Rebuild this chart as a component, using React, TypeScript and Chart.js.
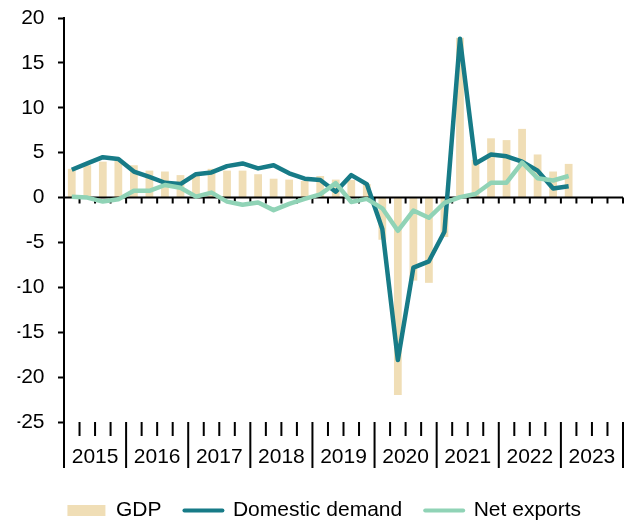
import React, { useEffect, useRef } from "react";
import { Chart, registerables } from "chart.js";

Chart.register(...registerables);

const years = ["2015", "2016", "2017", "2018", "2019", "2020", "2021", "2022", "2023"];
const quarters = ["Q1", "Q2", "Q3", "Q4"];
const categories = years.flatMap((y) => quarters.map((q) => `${y} ${q}`));

const gdp = [3.2, 3.6, 4.0, 4.1, 3.6, 3.0, 2.9, 2.5, 2.4, 3.2, 3.0, 3.0, 2.6, 2.1, 2.0, 1.85, 2.4, 2.0, 1.95, 1.5, -4.7, -22.0, -9.25, -9.5, -4.4, 17.8, 4.2, 6.6, 6.4, 7.65, 4.8, 2.9, 3.75];
const domesticDemand = [3.1, 3.8, 4.5, 4.3, 2.9, 2.3, 1.65, 1.5, 2.6, 2.8, 3.5, 3.8, 3.25, 3.6, 2.7, 2.1, 1.95, 0.65, 2.5, 1.5, -3.5, -18.1, -7.8, -7.1, -3.8, 17.7, 3.8, 4.8, 4.6, 4.0, 3.0, 1.0, 1.25];
const netExports = [0.1, 0.0, -0.45, -0.2, 0.75, 0.75, 1.4, 1.1, 0.1, 0.55, -0.45, -0.8, -0.55, -1.4, -0.7, -0.15, 0.35, 1.6, -0.5, -0.15, -1.2, -3.7, -1.45, -2.25, -0.6, 0.05, 0.4, 1.65, 1.65, 3.9, 2.15, 1.9, 2.4];

const FONT = '"Liberation Sans", Arial, sans-serif';
const FONT_SIZE = 21;

const axisPlugin = {
  id: "quarterAxes",
  afterDatasetDraw(chart: any, args: any) {
    if (args.meta.type !== "bar") return;
    const { ctx, chartArea, scales } = chart;
    const x = scales.x;
    const y0 = scales.y.getPixelForValue(0);
    const w = x.getPixelForValue(1) - x.getPixelForValue(0);
    ctx.save();
    ctx.strokeStyle = "#000";
    ctx.lineWidth = 2;
    ctx.beginPath();
    ctx.moveTo(chartArea.left, y0);
    ctx.lineTo(chartArea.right, y0);
    for (let k = 1; k <= categories.length; k++) {
      const bx = x.getPixelForValue(k - 1) + w / 2;
      ctx.moveTo(bx, y0);
      ctx.lineTo(bx, y0 + 6);
    }
    ctx.stroke();
    ctx.restore();
  },
  afterDraw(chart: any) {
    const { ctx, chartArea, scales } = chart;
    const x = scales.x;
    const yb = chartArea.bottom;
    const w = x.getPixelForValue(1) - x.getPixelForValue(0);
    const boundary = (k: number) => x.getPixelForValue(0) - w / 2 + k * w;
    ctx.save();
    ctx.strokeStyle = "#000";
    ctx.lineWidth = 2;
    ctx.beginPath();
    for (let k = 0; k <= categories.length; k++) {
      const bx = boundary(k);
      ctx.moveTo(bx, yb);
      ctx.lineTo(bx, yb + (k % 4 === 0 ? 46 : 14));
    }
    ctx.stroke();
    ctx.fillStyle = "#000";
    ctx.font = `${FONT_SIZE}px ${FONT}`;
    ctx.textAlign = "center";
    ctx.textBaseline = "middle";
    years.forEach((yr, j) => {
      const cx = (boundary(j * 4) + boundary(j * 4 + 4)) / 2;
      ctx.fillText(yr, cx, yb + 35);
    });
    ctx.restore();
  },
};

export default function App() {
  const ref = useRef<HTMLCanvasElement>(null);
  useEffect(() => {
    if (!ref.current) return;
    Chart.defaults.font.family = FONT;
    const chart = new Chart(ref.current, {
      type: "bar",
      data: {
        labels: categories,
        datasets: [
          {
            type: "bar",
            label: "GDP",
            data: gdp,
            backgroundColor: "#F0DEB6",
            borderWidth: 0,
            categoryPercentage: 1,
            barPercentage: 0.5,
            order: 2,
          },
          {
            type: "line",
            label: "Domestic demand",
            data: domesticDemand,
            borderColor: "#177B87",
            backgroundColor: "#177B87",
            borderWidth: 4.5,
            pointRadius: 0,
            tension: 0,
            borderJoinStyle: "round",
            order: 1,
          },
          {
            type: "line",
            label: "Net exports",
            data: netExports,
            borderColor: "#90D3B6",
            backgroundColor: "#90D3B6",
            borderWidth: 4.5,
            pointRadius: 0,
            tension: 0,
            borderJoinStyle: "round",
            order: 0,
          },
        ] as any,
      },
      options: {
        animation: false,
        responsive: true,
        maintainAspectRatio: false,
        layout: { padding: { left: 17.5, right: 0, top: 18, bottom: -9 } },
        plugins: {
          tooltip: { enabled: false },
          legend: {
            position: "bottom",
            labels: {
              usePointStyle: true,
              pointStyleWidth: 38,
              boxHeight: 11,
              padding: 23,
              color: "#000",
              font: { size: FONT_SIZE, family: FONT },
              generateLabels: (c: any) =>
                c.data.datasets.map((ds: any, i: number) => ({
                  text: ds.label,
                  fillStyle: ds.type === "line" ? ds.borderColor : ds.backgroundColor,
                  strokeStyle: ds.type === "line" ? ds.borderColor : ds.backgroundColor,
                  lineWidth: ds.type === "line" ? 4 : 0,
                  lineCap: "round",
                  pointStyle: ds.type === "line" ? "line" : "rect",
                  hidden: false,
                  datasetIndex: i,
                  fontColor: "#000",
                })),
            },
          },
        },
        scales: {
          x: {
            type: "category",
            offset: true,
            display: true,
            grid: { display: false },
            border: { display: false },
            ticks: { display: false },
            afterFit: (s: any) => {
              s.height = 55;
            },
          },
          y: {
            type: "linear",
            position: "left",
            min: -25,
            max: 20,
            ticks: {
              stepSize: 5,
              color: "#000",
              padding: 13.5,
              font: { size: FONT_SIZE, family: FONT },
            },
            grid: {
              drawOnChartArea: false,
              drawTicks: true,
              tickLength: 6,
              tickWidth: 2,
              tickColor: "#000",
            },
            border: { display: true, color: "#000", width: 2 },
            afterFit: (s: any) => {
              s.width = 46.5;
              s.paddingTop = 12;
              s.paddingBottom = 12;
            },
          },
          yR: {
            type: "linear",
            position: "right",
            display: true,
            grid: { display: false },
            border: { display: false },
            ticks: { display: false },
            afterFit: (s: any) => {
              s.width = 8;
            },
          },
        } as any,
      },
      plugins: [axisPlugin],
    });
    return () => chart.destroy();
  }, []);
  return (
    <div style={{ position: "fixed", left: 0, top: 0, width: 631, height: 522 }}>
      <canvas ref={ref} />
    </div>
  );
}
